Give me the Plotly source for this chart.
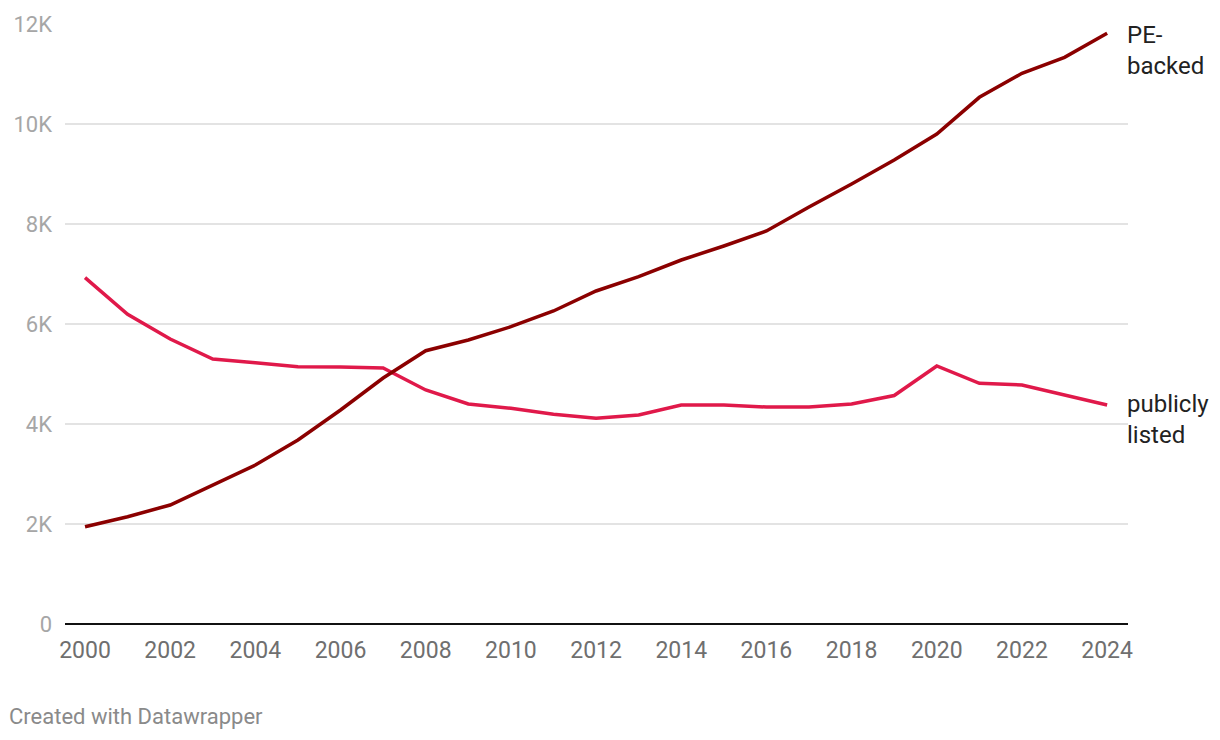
import plotly.graph_objects as go

years = list(range(2000, 2025))
pe_backed = [1946, 2146, 2380, 2780, 3180, 3680, 4280, 4920, 5466, 5680,
             5946, 6260, 6660, 6946, 7280, 7560, 7860, 8340, 8800, 9280,
             9800, 10534, 11014, 11334, 11814]
publicly_listed = [6926, 6194, 5700, 5300, 5226, 5146, 5140, 5120, 4680, 4400,
                   4314, 4194, 4114, 4180, 4380, 4380, 4340, 4340, 4400, 4570,
                   5160, 4814, 4780, 4580, 4380]
y_ticks = [0, 2000, 4000, 6000, 8000, 10000, 12000]
y_tick_labels = ["0", "2K", "4K", "6K", "8K", "10K", "12K"]
x_ticks = list(range(2000, 2025, 2))

PE_COLOR = "#8b0000"
PUB_COLOR = "#e0194a"

# the page shows the figure with an 8px body offset
L, R, T, B = 57, 100, 16, 124
PW, PH = 1220 - L - R, 740 - T - B

fig = go.Figure()
fig.add_trace(go.Scatter(x=years, y=publicly_listed, mode="lines",
                         line=dict(color=PUB_COLOR, width=3.5), name="publicly listed"))
fig.add_trace(go.Scatter(x=years, y=pe_backed, mode="lines",
                         line=dict(color=PE_COLOR, width=3.5), name="PE-backed"))

fig.add_annotation(x=years[-1], y=pe_backed[-1], text="PE-<br>backed",
                   xanchor="left", yanchor="top", xshift=18, yshift=14,
                   showarrow=False, align="left",
                   font=dict(family="Roboto", size=24, color="#222222"))
fig.add_annotation(x=years[-1], y=publicly_listed[-1], text="publicly<br>listed",
                   xanchor="left", yanchor="top", xshift=18, yshift=17,
                   showarrow=False, align="left",
                   font=dict(family="Roboto", size=24, color="#222222"))

fig.add_annotation(xref="paper", yref="paper", x=-L / PW, y=-(716 - 8 - T - PH) / PH,
                   xanchor="left", yanchor="middle", text="Created with Datawrapper",
                   showarrow=False, xshift=-1,
                   font=dict(family="Roboto", size=22, color="#8a8a8a"))

fig.update_layout(
    width=1220, height=740,
    margin=dict(l=L, r=R, t=T, b=B, autoexpand=False),
    paper_bgcolor="white", plot_bgcolor="white",
    showlegend=False,
    font=dict(family="Roboto"),
    xaxis=dict(range=[1999.53, 2024.49], tickvals=x_ticks, showgrid=False,
               zeroline=False, showline=False, ticks="", automargin=False,
               tickfont=dict(family="Roboto", size=23, color="#6f6f6f"),
               ticklabelstandoff=10),
    yaxis=dict(range=[0, 12000], tickvals=y_ticks, ticktext=y_tick_labels,
               showgrid=True, gridcolor="#e3e3e3", gridwidth=1.5,
               zeroline=True, zerolinecolor="#111111", zerolinewidth=1.8,
               showline=False, ticks="", automargin=False,
               tickfont=dict(family="Roboto", size=22, color="#a6a6a6"),
               ticklabelstandoff=12),
)

fig.write_html("out.html")
